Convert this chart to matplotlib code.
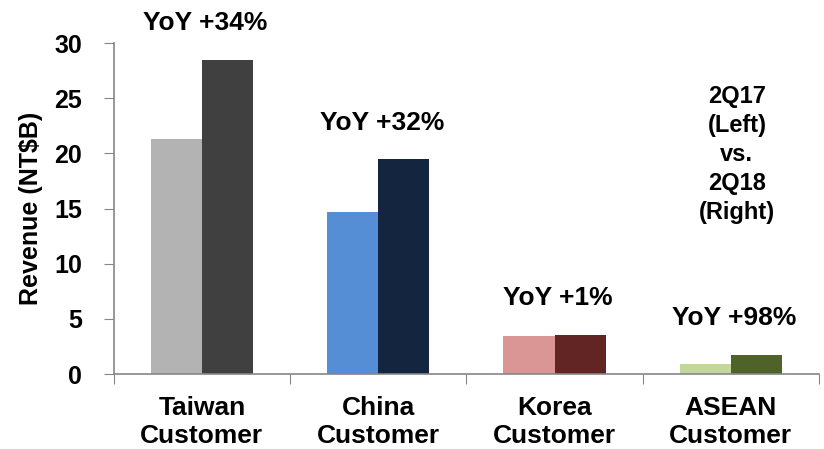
import matplotlib.pyplot as plt
import numpy as np

plt.rcParams['font.family'] = ['Liberation Sans', 'DejaVu Sans']
plt.rcParams['font.weight'] = 'bold'

categories = ["Taiwan\nCustomer", "China\nCustomer", "Korea\nCustomer", "ASEAN\nCustomer"]
rev_2q17 = [21.3, 14.7, 3.45, 0.93]
rev_2q18 = [28.5, 19.5, 3.55, 1.75]
yoy_labels = ["YoY +34%", "YoY +32%", "YoY +1%", "YoY +98%"]
colors_2q17 = ["#b3b3b3", "#558ed5", "#d99694", "#c3d69b"]
colors_2q18 = ["#404040", "#14253f", "#632523", "#4f6228"]

fig = plt.figure(figsize=(8.24, 4.49), dpi=100)
ax = fig.add_axes([0.138, 0.167, 0.856, 0.737])

x = np.arange(len(categories))
w = 0.29
ax.bar(x - w / 2, rev_2q17, w, color=colors_2q17)
ax.bar(x + w / 2, rev_2q18, w, color=colors_2q18)

ax.set_xlim(-0.5, len(categories) - 0.5)
ax.set_ylim(0, 30)
ax.set_yticks([0, 5, 10, 15, 20, 25, 30])

# category boundaries as ticks, labels in the middle
ax.set_xticks(np.arange(len(categories) + 1) - 0.5)
ax.set_xticklabels([])
ax.set_xticks(x, minor=True)
ax.set_xticklabels(categories, minor=True, fontsize=19, fontweight='bold', linespacing=1.22)
ax.tick_params(axis='x', which='minor', length=0, pad=16)
ax.tick_params(axis='x', which='major', length=7, color='#868686', direction='out')
ax.tick_params(axis='y', length=7, color='#868686', labelsize=18, pad=16)

for s in ['top', 'right']:
    ax.spines[s].set_visible(False)
for s in ['left', 'bottom']:
    ax.spines[s].set_color('#868686')
    ax.spines[s].set_linewidth(1.2)

ax.set_ylabel("Revenue (NT$B)", fontsize=18, fontweight='bold', labelpad=8)

# YoY labels above each group
for i, lab in enumerate(yoy_labels):
    top = max(rev_2q17[i], rev_2q18[i])
    ax.text(x[i] + 0.02, top + 3.3, lab, ha='center', va='center',
            fontsize=19, fontweight='bold', clip_on=False)

ax.text(3.034, 19.9, "2Q17\n(Left)\nvs.\n2Q18\n(Right)", ha='center', va='center',
        fontsize=17, fontweight='bold', linespacing=1.33)

fig.savefig("out.png", dpi=100)
